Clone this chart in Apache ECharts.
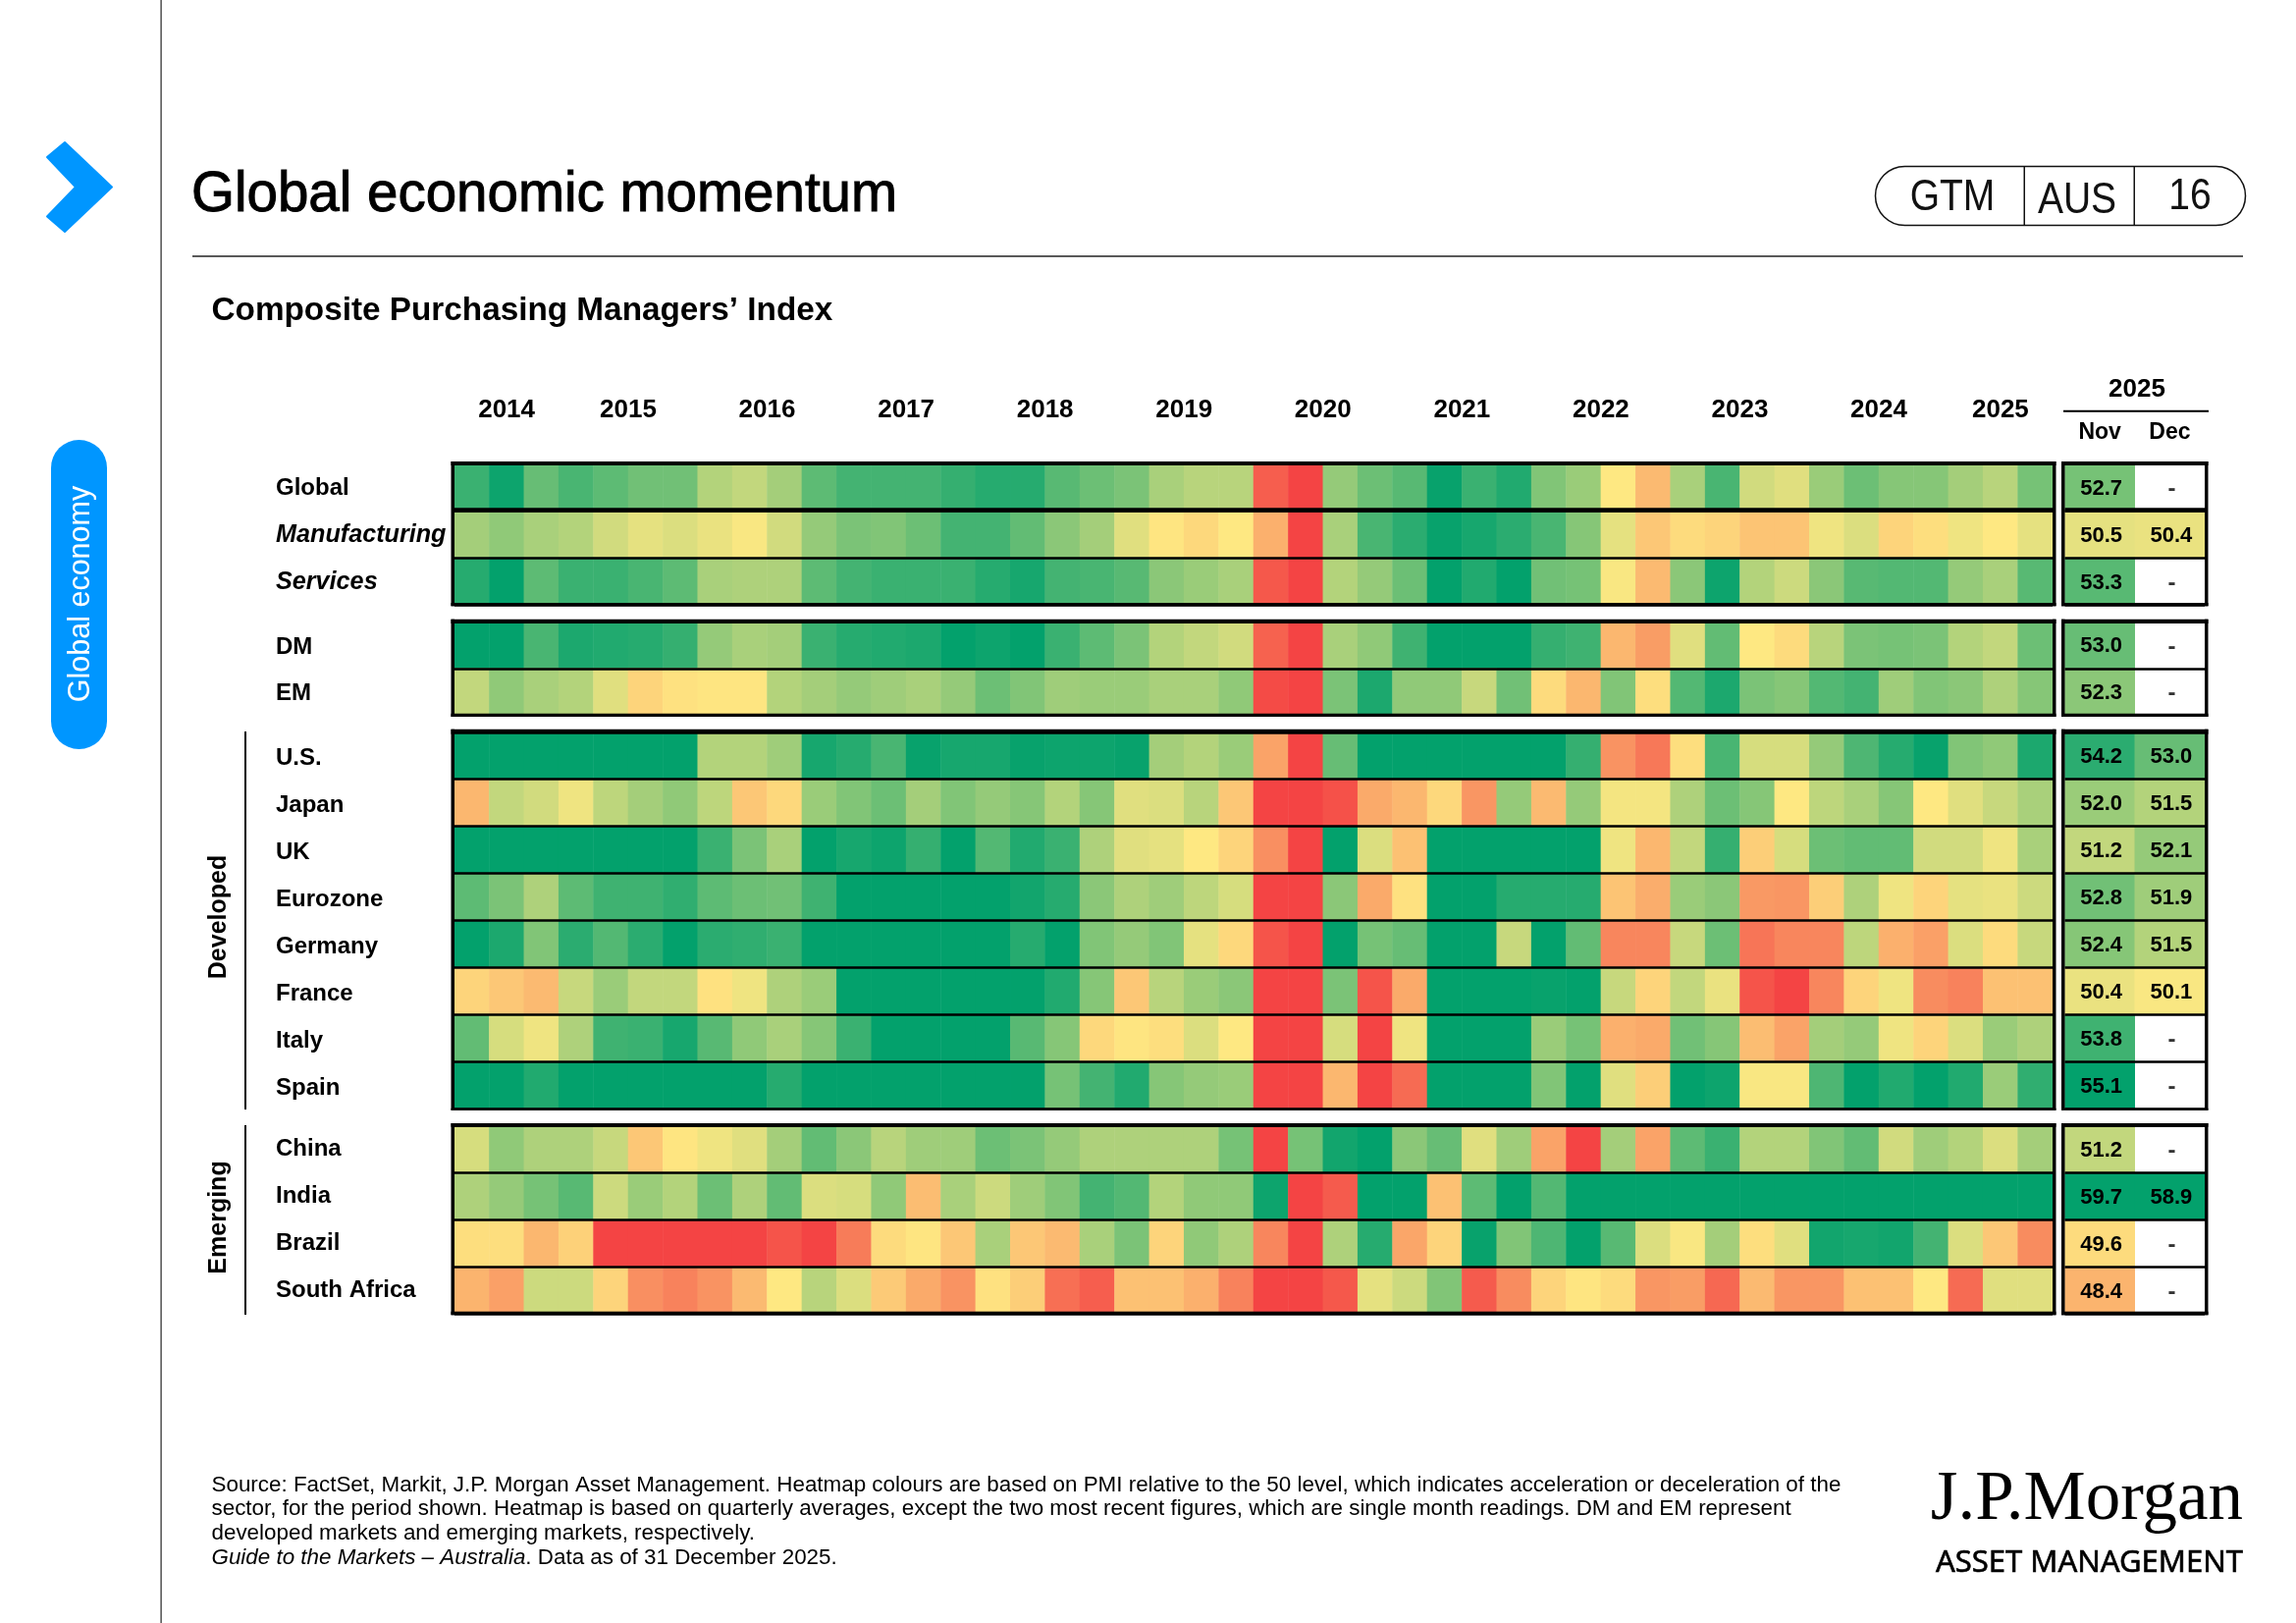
<!DOCTYPE html>
<html>
<head>
<meta charset="utf-8">
<style>html,body{margin:0;padding:0;background:#fff}#chart{width:2339px;height:1653px}</style>
<script src="https://cdn.jsdelivr.net/npm/echarts@6/dist/echarts.min.js"></script>
</head>
<body>
<div id="chart"></div>
<script>
// ---------- DATA ----------
const quarters = ['2Q14','3Q14','4Q14','1Q15','2Q15','3Q15','4Q15','1Q16','2Q16','3Q16','4Q16','1Q17','2Q17','3Q17','4Q17','1Q18','2Q18','3Q18','4Q18','1Q19','2Q19','3Q19','4Q19','1Q20','2Q20','3Q20','4Q20','1Q21','2Q21','3Q21','4Q21','1Q22','2Q22','3Q22','4Q22','1Q23','2Q23','3Q23','4Q23','1Q24','2Q24','3Q24','4Q24','1Q25','2Q25','3Q25'];
const yearLabels = ['2014','2015','2016','2017','2018','2019','2020','2021','2022','2023','2024','2025'];
const yearColumns = [3,4,4,4,4,4,4,4,4,4,4,3];
const months = ['Nov','Dec'];

const globalPmi = [53.9,54.8,53.0,53.6,53.2,52.8,52.8,51.5,51.2,51.8,53.2,53.7,53.7,53.7,54.0,54.3,54.3,53.3,52.9,52.6,51.7,51.4,51.4,45.8,45.0,52.1,52.9,53.3,54.9,53.9,54.4,52.5,52.0,50.0,48.6,51.7,53.6,50.9,50.6,52.0,52.9,52.4,52.4,51.8,51.4,52.7];
const manufacturingPmi = [51.8,52.2,51.7,51.5,50.9,50.5,50.7,50.4,50.1,50.9,52.1,52.6,52.5,52.9,53.7,53.7,53.1,52.3,51.8,50.6,49.9,49.5,50.0,48.3,44.5,51.7,53.6,54.2,54.9,54.6,54.2,53.6,52.4,50.5,49.0,49.6,49.4,48.9,48.9,50.3,50.7,49.4,49.7,50.3,50.0,50.5];
const servicesPmi = [54.3,55.0,53.2,53.9,53.9,53.6,53.2,51.7,51.6,51.6,53.2,53.7,53.9,53.9,53.9,54.3,54.6,53.7,53.6,53.3,52.3,52.0,51.7,45.6,44.5,51.5,52.1,52.9,55.0,54.4,55.0,52.8,52.7,50.1,48.6,52.3,54.8,51.5,51.0,52.3,53.3,53.4,53.4,52.1,51.7,53.3];
const dmPmi = [55.0,55.0,53.6,54.5,54.4,54.3,54.0,52.1,51.7,51.8,53.9,54.3,54.4,54.5,55.0,54.8,55.0,53.9,53.2,52.6,51.5,51.2,50.9,45.9,44.5,51.7,52.2,53.8,55.0,55.0,55.0,54.0,53.8,48.5,47.7,50.6,53.1,50.0,49.6,51.4,52.6,52.7,52.6,51.5,51.2,52.9];
const emPmi = [51.2,52.2,51.7,51.5,50.6,49.4,49.8,49.9,49.9,51.5,51.8,52.1,51.9,51.7,52.1,52.9,52.5,51.9,52.0,52.0,51.7,51.7,52.2,45.2,44.8,52.6,54.5,52.2,52.2,51.1,52.8,49.6,48.5,52.5,49.7,53.4,54.5,52.6,52.4,53.4,53.7,51.9,52.5,52.3,51.6,52.4];
const usPmi = [55.0,55.0,55.0,55.0,55.0,55.0,55.0,51.5,51.5,51.9,54.6,54.3,53.6,54.9,54.6,54.6,54.9,54.8,54.8,54.9,51.8,51.5,52.0,47.9,44.5,53.0,55.0,55.0,55.0,55.0,55.0,55.0,54.0,47.4,46.6,49.7,53.6,50.8,50.8,52.1,53.5,54.3,54.9,52.5,52.2,54.5];
const japanPmi = [48.5,51.2,50.9,50.3,51.3,51.8,52.2,51.3,49.0,49.5,52.0,52.5,52.9,51.8,52.5,52.1,52.4,51.5,52.4,50.6,50.7,51.4,49.0,44.5,44.0,45.4,48.1,48.5,49.5,47.5,52.1,48.6,52.1,50.2,50.2,51.6,52.9,52.4,50.0,51.3,51.7,52.4,50.0,50.6,51.1,51.7];
const ukPmi = [55.0,55.0,55.0,55.0,55.0,55.0,55.0,53.9,52.6,51.7,55.0,54.6,54.8,54.0,55.0,53.4,54.4,53.9,51.6,50.6,50.5,50.0,49.4,47.3,44.5,55.0,50.7,48.8,55.0,55.0,55.0,55.0,55.0,50.3,48.5,51.2,54.0,49.2,50.8,52.9,53.1,53.1,50.9,50.9,50.3,51.7];
const eurozonePmi = [53.2,52.6,51.6,53.2,53.8,53.8,54.1,53.2,52.9,52.8,53.8,55.0,55.0,55.0,55.0,55.0,54.7,54.3,52.3,51.6,51.9,51.3,50.8,44.5,44.0,52.3,48.1,49.8,55.0,55.0,54.3,54.3,54.3,48.9,48.2,52.0,52.3,47.6,47.5,49.2,51.6,50.3,49.4,50.5,50.4,51.0];
const germanyPmi = [55.0,54.5,52.5,54.2,53.4,54.2,55.0,54.2,54.1,53.9,55.0,55.0,55.0,55.0,55.0,55.0,54.3,55.0,52.5,52.1,52.5,50.5,49.5,45.5,44.5,55.0,52.7,53.0,55.0,55.0,51.1,55.0,53.1,47.0,47.0,51.1,52.9,46.5,47.0,47.0,51.3,48.3,47.8,50.7,49.6,51.1];
const francePmi = [49.4,49.0,48.6,51.1,52.0,51.2,51.2,49.8,50.3,51.6,52.0,55.0,55.0,55.0,55.0,55.0,55.0,54.4,52.4,49.0,51.4,52.0,52.3,44.5,44.0,52.6,45.5,48.1,55.0,55.0,55.0,54.9,55.0,51.1,49.4,51.2,50.4,45.5,45.0,47.0,49.4,50.3,47.2,46.9,48.8,48.8];
const italyPmi = [53.1,50.8,50.3,51.6,53.8,53.9,54.6,53.3,52.2,51.7,52.4,53.9,55.0,55.0,55.0,55.0,53.3,52.4,49.5,49.9,49.7,50.7,50.0,44.5,44.0,50.8,44.7,50.3,55.0,55.0,55.0,52.0,52.7,48.3,48.1,52.8,52.4,48.7,47.9,51.8,52.1,50.3,49.4,50.7,52.0,51.6];
const spainPmi = [55.0,55.0,54.4,55.0,55.0,55.0,55.0,55.0,55.0,54.3,55.0,55.0,55.0,55.0,55.0,55.0,55.0,52.7,53.7,54.4,52.4,52.1,52.0,44.5,44.0,48.5,44.6,46.2,55.0,55.0,55.0,52.5,55.0,50.6,49.2,55.0,54.8,50.1,50.1,53.5,55.0,54.4,55.0,54.4,52.0,54.1];
const chinaPmi = [50.8,52.2,51.6,51.6,51.1,49.0,49.9,50.3,50.6,51.8,53.1,52.3,51.4,51.9,51.9,52.9,52.6,52.1,51.6,51.6,51.6,51.6,52.7,44.8,52.7,54.7,55.0,52.3,53.0,50.6,51.9,47.9,44.8,51.8,47.9,53.2,53.9,51.5,51.5,52.5,53.1,50.9,51.9,51.5,50.7,51.8];
const indiaPmi = [51.6,52.1,52.7,53.3,51.0,52.0,51.5,52.9,51.6,53.1,50.7,50.8,52.2,48.7,51.7,51.0,51.9,52.5,53.7,53.4,51.5,52.2,52.2,54.8,44.8,45.7,55.0,55.0,48.8,53.2,55.0,53.4,55.0,55.0,55.0,55.0,55.0,55.0,55.0,55.0,55.0,55.0,55.0,55.0,55.0,55.0];
const brazilPmi = [49.7,49.7,48.5,49.3,44.0,44.0,44.0,44.0,44.0,45.5,44.8,46.7,49.6,49.9,49.0,51.7,49.0,48.6,51.7,52.6,49.4,52.2,51.6,47.0,44.7,51.6,54.3,48.0,49.4,54.9,52.5,53.5,55.0,53.3,50.7,50.1,51.8,49.7,50.6,54.7,54.6,54.7,53.7,50.7,49.0,47.2];
const southAfricaPmi = [48.4,47.8,51.0,51.0,49.4,47.3,46.9,47.4,48.6,50.0,51.4,50.7,49.1,48.1,47.4,49.8,49.2,46.3,45.8,48.8,48.8,48.3,46.9,45.0,44.6,45.6,50.5,51.0,52.5,45.7,47.2,49.4,49.9,49.6,47.5,47.7,46.1,48.6,47.5,47.5,48.8,48.8,50.0,46.2,50.6,50.6];

const nov2025 = {Global:52.7,Manufacturing:50.5,Services:53.3,DM:53.0,EM:52.3,'U.S.':54.2,Japan:52.0,UK:51.2,Eurozone:52.8,Germany:52.4,France:50.4,Italy:53.8,Spain:55.1,China:51.2,India:59.7,Brazil:49.6,'South Africa':48.4};
const dec2025 = {Global:null,Manufacturing:50.4,Services:null,DM:null,EM:null,'U.S.':53.0,Japan:51.5,UK:52.1,Eurozone:51.9,Germany:51.5,France:50.1,Italy:null,Spain:null,China:null,India:58.9,Brazil:null,'South Africa':null};

const rowSeries = {Global:globalPmi,Manufacturing:manufacturingPmi,Services:servicesPmi,DM:dmPmi,EM:emPmi,'U.S.':usPmi,Japan:japanPmi,UK:ukPmi,Eurozone:eurozonePmi,Germany:germanyPmi,France:francePmi,Italy:italyPmi,Spain:spainPmi,China:chinaPmi,India:indiaPmi,Brazil:brazilPmi,'South Africa':southAfricaPmi};
const panelRows = [['Global','Manufacturing','Services'],['DM','EM'],['U.S.','Japan','UK','Eurozone','Germany','France','Italy','Spain'],['China','India','Brazil','South Africa']];
const italicRows = ['Manufacturing','Services'];

// ---------- LAYOUT ----------
const FONT = '"Liberation Sans", Arial, sans-serif';
const MAIN = {left:463, right:2091};
const SIDE = {left:2103.5, right:2246};
const panels = [
  {top:472, bottom:616, ft:[470,474], fb:[614,617.3], labelPad:1},
  {top:633, bottom:728.5, ft:[630.7,635], fb:[726.7,730], labelPad:2},
  {top:745.5, bottom:1129.7, ft:[742.7,747.7], fb:[1128.7,1130.7], labelPad:3},
  {top:1146.7, bottom:1338.7, ft:[1144,1147.7], fb:[1335.7,1339.3], labelPad:0}
];

const grids=[], xAxes=[], yAxes=[], series=[], graphics=[];
const rect=(x,y,w,h,fill,z)=>({type:'rect',shape:{x,y,width:w,height:h},style:{fill:fill||'#000'},z:z||20,silent:true});

panels.forEach((p,pi)=>{
  const rows = panelRows[pi];
  [MAIN,SIDE].forEach((box,bi)=>{
    grids.push({left:box.left,top:p.top,width:box.right-box.left,height:p.bottom-p.top,show:false,containLabel:false});
    const gridIndex = grids.length-1;
    const xIdx = xAxes.length, yIdx = yAxes.length;
    xAxes.push({type:'category',gridIndex,data:bi===0?quarters:months,position:'top',
      axisLine:{show:false},axisTick:{show:false},splitLine:{show:false},
      axisLabel:(bi===1&&pi===0)?{show:true,margin:20,fontFamily:FONT,fontSize:23,fontWeight:'bold',color:'#000'}:{show:false}});
    yAxes.push({type:'category',gridIndex,inverse:true,z:5,
      data:rows,
      axisLine:{show:false},axisTick:{show:false},
      splitLine:{show:true,lineStyle:{color:'#000',width:2.5}},
      axisLabel:bi===0?{show:true,align:'left',margin:182,color:'#000',
        formatter:v=>italicRows.includes(v)?`{i|${v}}`:`{n|${v}}`,
        rich:{
          n:{fontFamily:FONT,fontSize:24,fontWeight:'bold',color:'#000',padding:[p.labelPad*2,0,0,0]},
          i:{fontFamily:FONT,fontSize:25.2,fontWeight:'bold',fontStyle:'italic',color:'#000',padding:[p.labelPad*2,0,0,0]}
        }}:{show:false}});
    if(bi===0){
      const data=[];
      rows.forEach((r,y)=>rowSeries[r].forEach((v,x)=>data.push([x,y,v])));
      series.push({type:'heatmap',name:'Quarterly PMI',xAxisIndex:xIdx,yAxisIndex:yIdx,data,emphasis:{disabled:true},progressive:0});
    } else {
      const data=[], dashes=[];
      rows.forEach((r,y)=>{
        data.push([0,y,nov2025[r]]);
        if(dec2025[r]===null) dashes.push([1,y]); else data.push([1,y,dec2025[r]]);
      });
      series.push({type:'heatmap',name:'Monthly PMI',xAxisIndex:xIdx,yAxisIndex:yIdx,data,emphasis:{disabled:true},
        label:{show:true,color:'#000',fontFamily:FONT,fontSize:22,fontWeight:'bold',offset:[1.5,1.5],formatter:o=>o.value[2].toFixed(1)}});
      series.push({type:'scatter',name:'Not available',xAxisIndex:xIdx,yAxisIndex:yIdx,data:dashes,symbolSize:1,itemStyle:{color:'transparent'},silent:true,
        label:{show:true,position:'inside',color:'#000',fontFamily:FONT,fontSize:24,fontWeight:'bold',offset:[2,2],formatter:'-'}});
    }
    // frame
    const L=box.left-3.5, R=box.right, W=box.right-box.left+7;
    graphics.push(rect(L,p.ft[0],W,p.ft[1]-p.ft[0]));
    graphics.push(rect(L,p.fb[0],W,p.fb[1]-p.fb[0]));
    graphics.push(rect(L,p.ft[0],3.5,p.fb[1]-p.ft[0]));
    graphics.push(rect(R,p.ft[0],3.5,p.fb[1]-p.ft[0]));
  });
});
// thicker separator under the Global row
graphics.push(rect(MAIN.left,517.3,MAIN.right-MAIN.left,4.4));
graphics.push(rect(SIDE.left,517.3,SIDE.right-SIDE.left,4.4));

// year labels: a value axis sharing the first grid
let cum=0; const yearCentres=yearColumns.map(n=>{const c=cum+n/2;cum+=n;return c;});
xAxes.push({type:'value',gridIndex:0,position:'top',min:0,max:quarters.length,
  axisLine:{show:false},axisTick:{show:false},splitLine:{show:false},
  axisLabel:{show:true,customValues:yearCentres,margin:41,fontFamily:FONT,fontSize:26,fontWeight:'bold',color:'#000',hideOverlap:false,showMinLabel:true,showMaxLabel:true,
    formatter:v=>yearLabels[yearCentres.indexOf(v)]}});

// page furniture
const BLUE='#0096FF';
graphics.push(rect(163.5,0,1.2,1653,'#222'));
graphics.push(rect(196,260.3,2089,1.5,'#222'));
graphics.push({type:'polygon',z:20,silent:true,shape:{points:[[66,145],[114,190.5],[66,236],[48,220.5],[77,190.5],[48,160]]},style:{fill:BLUE,stroke:BLUE,lineWidth:2,lineJoin:'round'}});
graphics.push({type:'rect',z:20,silent:true,shape:{x:52,y:448,width:57,height:315,r:28.5},style:{fill:BLUE}});
graphics.push({type:'text',z:21,silent:true,x:83,y:605,rotation:Math.PI/2,style:{text:'Global economy',fill:'#fff',font:'30.5px '+FONT,textAlign:'center',textVerticalAlign:'middle'}});
// GTM pill
graphics.push({type:'rect',z:20,silent:true,shape:{x:1910.5,y:169.5,width:377,height:60,r:30},style:{fill:'#fff',stroke:'#111',lineWidth:1.5}});
graphics.push(rect(2061.5,169.5,1.5,60,'#111',21));
graphics.push(rect(2173.5,169.5,1.5,60,'#111',21));
[['GTM',1989,202],['AUS',2116,205],['16',2231,201]].forEach(a=>graphics.push({type:'text',z:22,silent:true,x:a[1],y:a[2],scaleY:1.15,style:{text:a[0],fill:'#111',font:'39px '+FONT,textAlign:'center',textVerticalAlign:'middle'}}));
// 2025 header
graphics.push({type:'text',z:20,silent:true,x:2177,y:397,style:{text:'2025',fill:'#000',font:'bold 26px '+FONT,textAlign:'center',textVerticalAlign:'middle'}});
graphics.push(rect(2102,417.7,148,2));
// group brackets
graphics.push(rect(249,745,2,385));
graphics.push(rect(249,1146,2,193));
[['Developed',934],['Emerging',1240]].forEach(a=>graphics.push({type:'text',z:20,silent:true,x:223.5,y:a[1],rotation:Math.PI/2,style:{text:a[0],fill:'#000',font:'bold 25px '+FONT,textAlign:'center',textVerticalAlign:'middle'}}));
// footnote
const noteLines=['Source: FactSet, Markit, J.P. Morgan Asset Management. Heatmap colours are based on PMI relative to the 50 level, which indicates acceleration or deceleration of the',
'sector, for the period shown. Heatmap is based on quarterly averages, except the two most recent figures, which are single month readings. DM and EM represent',
'developed markets and emerging markets, respectively.'];
noteLines.forEach((t,i)=>graphics.push({type:'text',z:20,silent:true,x:215.5,y:1512.5+24.7*i,style:{text:t,fill:'#000',font:'22.4px '+FONT,textAlign:'left',textVerticalAlign:'middle'}}));
graphics.push({type:'text',z:20,silent:true,x:215.5,y:1586.5,style:{text:'{i|Guide to the Markets – Australia}. Data as of 31 December 2025.',fill:'#000',font:'22.4px '+FONT,textAlign:'left',textVerticalAlign:'middle',rich:{i:{font:'italic 22.4px '+FONT,fill:'#000'}}}});
// logo
graphics.push({type:'text',z:20,silent:true,x:2285,y:1528,style:{text:'J.P.Morgan',fill:'#000',font:'71px "Liberation Serif", serif',textAlign:'right',textVerticalAlign:'middle'}});
graphics.push({type:'text',z:20,silent:true,x:2285,y:1592,style:{text:'ASSET MANAGEMENT',fill:'#000',stroke:'#000',lineWidth:0.6,font:'31px "Noto Sans", sans-serif',textAlign:'right',textVerticalAlign:'middle'}});

const chart=echarts.init(document.getElementById('chart'));
chart.setOption({
  animation:false,
  backgroundColor:'#fff',
  title:[
    {text:'Global economic momentum',left:190,top:166,textStyle:{fontFamily:FONT,fontSize:56.5,fontWeight:'normal',color:'#000',textBorderColor:'#000',textBorderWidth:1}},
    {text:'Composite Purchasing Managers’ Index',left:210.5,top:295,textStyle:{fontFamily:FONT,fontSize:33.3,fontWeight:'bold',color:'#000'}}
  ],
  grid:grids, xAxis:xAxes, yAxis:yAxes, series,
  visualMap:{show:false,type:'continuous',min:45,max:55,seriesIndex:series.map((s,i)=>s.type==='heatmap'?i:-1).filter(i=>i>=0),inRange:{color:['#F44444','#FEE882','#03A16C']}},
  graphic:{elements:graphics}
});
</script>
</body>
</html>
